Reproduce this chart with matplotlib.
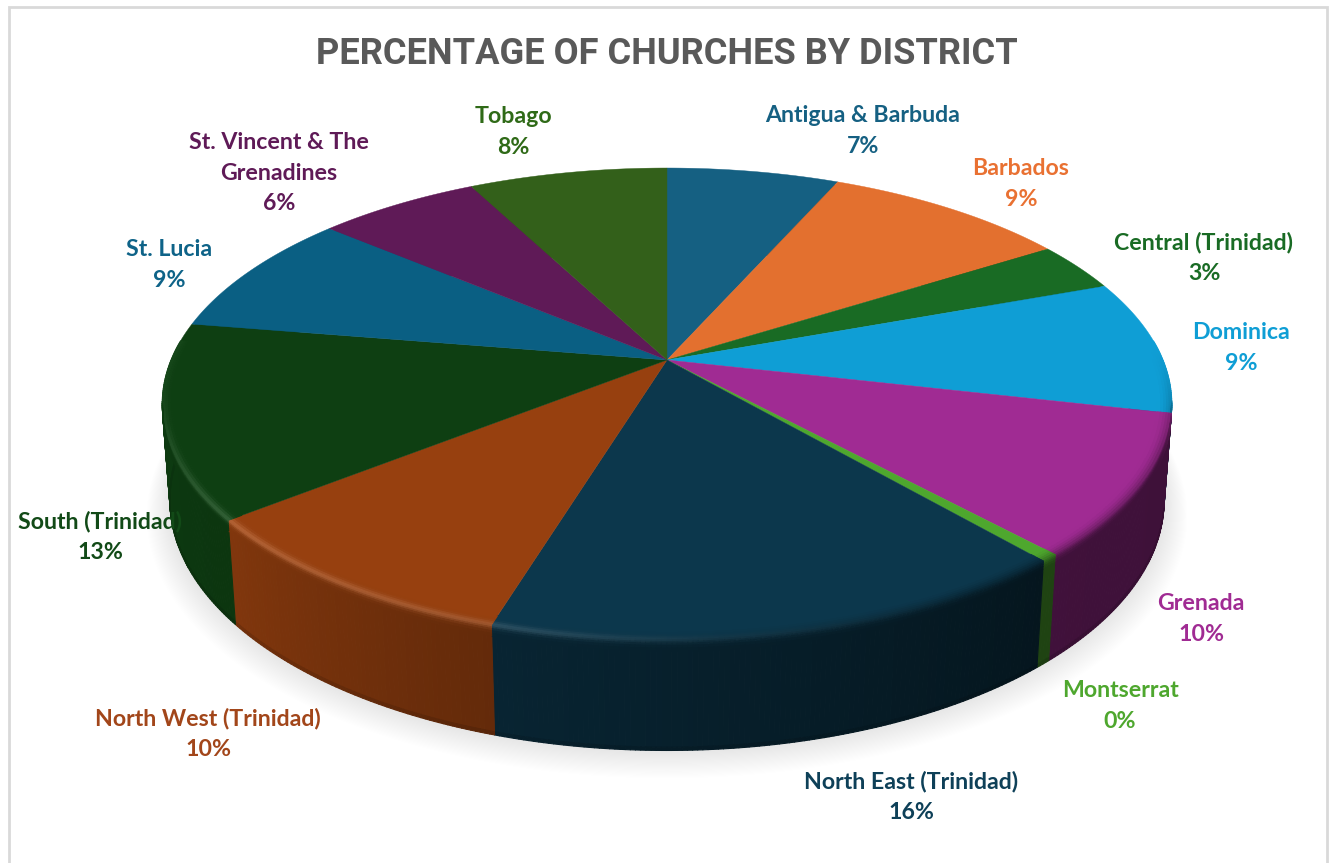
import numpy as np
import matplotlib
matplotlib.use("Agg")
import matplotlib.pyplot as plt
from matplotlib.collections import PolyCollection
from matplotlib.colors import to_rgb
from matplotlib.patches import Polygon, Rectangle

# Share of churches per district, in percent
districts = ["Antigua & Barbuda", "Barbados", "Central (Trinidad)", "Dominica",
             "Grenada", "Montserrat", "North East (Trinidad)", "North West (Trinidad)",
             "South (Trinidad)", "St. Lucia", "St. Vincent & The\nGrenadines", "Tobago"]
shares = [6.6, 9.4, 3.4, 9.2, 9.6, 0.5, 16.0, 9.6, 13.3, 8.6, 6.2, 7.6]
slice_colors = ["#156082", "#E3702F", "#196B24", "#0F9ED5", "#A02B93", "#4EA72E",
                "#0C374C", "#97400F", "#0E3F12", "#0A5F83", "#5F1A57", "#33601A"]
label_colors = ["#156082", "#E97132", "#196B24", "#0F9ED5", "#A02B93", "#4EA72E",
                "#0E4058", "#A2461A", "#124A17", "#0E6388", "#5F1A57", "#2F6A17"]
label_x = [863, 1021, 1204, 1241, 1201, 1120, 911, 208, 100, 169, 279, 513]
label_y = [131, 184, 258, 348, 619, 706, 797, 734, 537, 265, 173, 132]

TITLE = "PERCENTAGE OF CHURCHES BY DISTRICT"

# Perspective camera for the tilted disc, in pixel units
CX, CY = 667.0, 360.0
RX, RY = 496.0, 227.7
TILT, DEPTH_SHRINK, THICKNESS = 0.186, 0.015, 96.0


def project(theta_deg, r=1.0, z=0.0):
    """Map polar position on the disc (clockwise from 12 o'clock) to the canvas."""
    t = np.radians(theta_deg)
    c, s = r * np.cos(t), r * np.sin(t)
    w = 1 + TILT * c + DEPTH_SHRINK * z
    return np.column_stack([CX + RX * s / w, CY + (-RY * c + THICKNESS * z) / w])


def smooth(u):
    u = np.clip(u, 0, 1)
    return u * u * (3 - 2 * u)


def side_factor(theta):
    return np.interp(theta, [90, 140, 197, 231, 280], [0.38, 0.40, 0.66, 0.85, 0.95])


def rim_fade(theta):
    return smooth((theta - 85) / 30) * smooth((275 - theta) / 30)


def rim_glint(theta):
    return np.interp(theta, [100, 150, 175, 197, 231, 250, 262],
                     [0, 0, 0.04, 0.13, 0.15, 0.08, 0.03])


fig = plt.figure(figsize=(13.33, 8.63), dpi=100, facecolor="white")
ax = fig.add_axes([0, 0, 1, 1])
ax.set_xlim(0, 1333)
ax.set_ylim(863, 0)
ax.axis("off")

ax.add_patch(Rectangle((8.5, 7.5), 1318.5, 900, fc="white", ec="#D9D9D9", lw=2, zorder=0))

# Soft drop shadow under the disc
outline = project(np.linspace(0, 360, 361), 1.0, 1.0)
centre = outline.mean(axis=0)
for g in np.linspace(30, 0, 26):
    pts = centre + (outline - centre) * (1 + g / 640)
    pts = pts + np.array([0, g * 0.5])
    ax.add_patch(Polygon(pts, fc="black", ec="none", alpha=0.0058, zorder=1))

edges = np.concatenate([[0], np.cumsum(shares)]) / np.sum(shares) * 360

# Rim profile: the last stretch of the top face, then the start of the wall
rim_r = np.array([0.972, 0.979, 0.985, 0.990, 0.995, 1.0])
rim_z = np.array([0.0, 0.015, 0.03, 0.05, 0.075, 0.10])

for start, end, col in zip(edges[:-1], edges[1:], slice_colors):
    base = np.array(to_rgb(col))
    n = max(2, int(np.ceil((end - start) / 0.5)) + 1)
    th = np.linspace(start, end, n)
    mids = 0.5 * (th[:-1] + th[1:])

    # Outer wall, one column per angular step with a darker band at the floor
    polys, cols = [], []
    upper, lower, floor = project(th, 1.0, 0.05), project(th, 1.0, 0.97), project(th, 1.0, 1.0)
    for i, m in enumerate(mids):
        polys.append([upper[i], upper[i + 1], lower[i + 1], lower[i]])
        cols.append(base * side_factor(m))
    for i, m in enumerate(mids):
        polys.append([lower[i], lower[i + 1], floor[i + 1], floor[i]])
        cols.append(base * side_factor(m) * 0.88)
    ax.add_collection(PolyCollection(polys, facecolors=cols, edgecolors=cols,
                                     linewidths=0.8, zorder=2))

    # Flat top face of the wedge
    ax.add_patch(Polygon(np.vstack([[CX, CY], project(th)]), fc=col, ec=col,
                         lw=0.3, zorder=3))

    # Rounded rim: blend from the top colour into the wall colour with a glint
    polys, cols = [], []
    levels = [(rim_r[i], 0.0, rim_r[i + 1], 0.0, 0.5 * i / 5, 0.5 * (i + 1) / 5) for i in range(5)]
    levels += [(1.0, rim_z[i], 1.0, rim_z[i + 1], 0.5 + 0.5 * i / 5, 0.5 + 0.5 * (i + 1) / 5)
               for i in range(5)]
    for r0, z0, r1, z1, u0, u1 in levels:
        a, b = project(th, r0, z0), project(th, r1, z1)
        u = 0.5 * (u0 + u1)
        for i, m in enumerate(mids):
            fade = rim_fade(m)
            if fade <= 0 or (z1 > 0 and not 100 < m < 260):
                continue
            side = base * side_factor(m)
            rgb = base + (side - base) * smooth(u) * fade
            rgb = rgb + rim_glint(m) * np.exp(-((u - 0.5) / 0.2) ** 2)
            polys.append([a[i], a[i + 1], b[i + 1], b[i]])
            cols.append(np.clip(rgb, 0, 1))
    if polys:
        ax.add_collection(PolyCollection(polys, facecolors=cols, edgecolors=cols,
                                         linewidths=0.7, zorder=4))

ax.text(667, 54, TITLE, ha="center", va="center", family="Roboto",
        fontweight="bold", fontsize=26.1, color="#595959", zorder=6)

for name, share, x, y, col in zip(districts, shares, label_x, label_y, label_colors):
    ax.text(x, y, f"{name}\n{round(share)}%", ha="center", va="center", family="Lato",
            fontweight="bold", fontsize=16.7, color=col, linespacing=1.53, zorder=6)

fig.savefig("out.png", dpi=100)
